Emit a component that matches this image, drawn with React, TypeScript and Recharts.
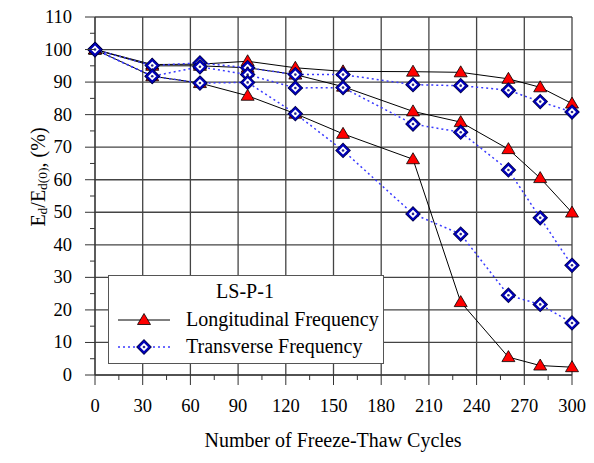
import { LineChart, Line, XAxis, YAxis, CartesianGrid } from "recharts";

// freeze-thaw cycles where readings were taken
const cycles = [0, 36, 66, 96, 126, 156, 200, 230, 260, 280, 300];

// longitudinal frequency, three specimens
const long1 = [100, 95.4, 95.5, 96.4, 94.4, 93.3, 93.2, 93, 91, 88.4, 83.4];
const long2 = [100, 95, 95, 94.4, 92.3, 88.6, 81, 77.7, 69.4, 60.5, 49.9];
const long3 = [100, 91.8, 89.7, 85.8, 80.3, 74.1, 66.3, 22.4, 5.5, 2.9, 2.4];

// transverse frequency, three specimens
const trans1 = [100, 95.1, 95.9, 94.4, 92.3, 92.3, 89.2, 88.9, 87.5, 84, 80.8];
const trans2 = [100, 91.8, 94.7, 92.3, 88.2, 88.3, 77.1, 74.6, 63, 48.3, 33.7];
const trans3 = [100, 91.8, 89.7, 89.9, 80.3, 69, 49.5, 43.3, 24.5, 21.7, 16];

const xTicks = Array.from({ length: 21 }, (_, i) => i * 15);
const xMajor = xTicks.filter((v) => v % 30 === 0);
const yTicks = Array.from({ length: 23 }, (_, i) => i * 5);
const yMajor = yTicks.filter((v) => v % 10 === 0);

const data = cycles.map((c, i) => ({
  cycles: c,
  l1: long1[i],
  l2: long2[i],
  l3: long3[i],
  t1: trans1[i],
  t2: trans2[i],
  t3: trans3[i],
}));

const FONT = '"Liberation Serif", "Times New Roman", serif';
const AXIS = "#333";
const BLUE_LINE = "#3a3aff";

function Triangle({ cx, cy }: { cx: number; cy: number }) {
  return (
    <polygon
      points={`${cx},${cy - 6.5} ${cx + 6.5},${cy + 4.5} ${cx - 6.5},${cy + 4.5}`}
      fill="#ff0000"
      stroke="#000"
      strokeWidth={0.8}
    />
  );
}

function Diamond({ cx, cy }: { cx: number; cy: number }) {
  const pts = `${cx},${cy - 5.5} ${cx + 5.5},${cy} ${cx},${cy + 5.5} ${cx - 5.5},${cy}`;
  return (
    <g>
      <polygon points={pts} fill="#fff" stroke="#000040" strokeWidth={3.4} />
      <polygon points={pts} fill="#fff" stroke="#0000b8" strokeWidth={2} />
      <circle cx={cx} cy={cy} r={1.3} fill="#2a2a90" />
    </g>
  );
}

const triDot = (p: any) =>
  p.cx == null ? <g key={p.key} /> : <g key={p.key}><Triangle cx={p.cx} cy={p.cy} /></g>;
const diaDot = (p: any) =>
  p.cx == null ? <g key={p.key} /> : <g key={p.key}><Diamond cx={p.cx} cy={p.cy} /></g>;

// tick position comes in as the axis line point since tickSize and tickMargin are 0
const xTick = (p: any) => {
  const { x, y, payload } = p;
  const major = payload.value % 30 === 0;
  return (
    <g>
      <line x1={x} x2={x} y1={y} y2={y + (major ? 10 : 5)} stroke={AXIS} />
      {major && (
        <text x={x} y={y + 37} textAnchor="middle" fontSize={18.5} fontFamily={FONT} fill="#000">
          {payload.value}
        </text>
      )}
    </g>
  );
};

const yTick = (p: any) => {
  const { x, y, payload } = p;
  const major = payload.value % 10 === 0;
  return (
    <g>
      <line x1={x} x2={x - (major ? 10 : 5)} y1={y} y2={y} stroke={AXIS} />
      {major && (
        <text x={x - 23} y={y + 6} textAnchor="end" fontSize={18.5} fontFamily={FONT} fill="#000">
          {payload.value}
        </text>
      )}
    </g>
  );
};

export default function App() {
  return (
    <div style={{ position: "absolute", left: 0, top: 0, width: 594, height: 463, background: "#fff" }}>
      <LineChart
        width={594}
        height={463}
        data={data}
        margin={{ top: 17, right: 22, bottom: 58, left: 65 }}
      >
        <CartesianGrid
          horizontalValues={yMajor}
          verticalValues={xMajor}
          stroke="#444"
          strokeWidth={1.3}
        />
        <XAxis
          type="number"
          dataKey="cycles"
          domain={[0, 300]}
          ticks={xTicks}
          interval={0}
          height={30}
          tickSize={0}
          tickMargin={0}
          tickLine={false}
          axisLine={{ stroke: AXIS }}
          tick={xTick}
        />
        <YAxis
          type="number"
          domain={[0, 110]}
          ticks={yTicks}
          interval={0}
          width={30}
          tickSize={0}
          tickMargin={0}
          tickLine={false}
          axisLine={{ stroke: AXIS }}
          tick={yTick}
        />
        <Line dataKey="l1" stroke="#000" strokeWidth={1} dot={triDot} isAnimationActive={false} />
        <Line dataKey="l2" stroke="#000" strokeWidth={1} dot={triDot} isAnimationActive={false} />
        <Line dataKey="l3" stroke="#000" strokeWidth={1} dot={triDot} isAnimationActive={false} />
        <Line dataKey="t1" stroke={BLUE_LINE} strokeWidth={1.5} strokeDasharray="2 3" dot={diaDot} isAnimationActive={false} />
        <Line dataKey="t2" stroke={BLUE_LINE} strokeWidth={1.5} strokeDasharray="2 3" dot={diaDot} isAnimationActive={false} />
        <Line dataKey="t3" stroke={BLUE_LINE} strokeWidth={1.5} strokeDasharray="2 3" dot={diaDot} isAnimationActive={false} />
      </LineChart>

      <svg
        width={594}
        height={463}
        style={{ position: "absolute", left: 0, top: 0, pointerEvents: "none" }}
        fontFamily={FONT}
      >
        {/* axis titles */}
        <text
          x={40}
          y={177}
          transform="rotate(-90 40 177)"
          textAnchor="middle"
          dominantBaseline="middle"
          fontSize={20}
          fill="#000"
        >
          E<tspan dy={4} fontSize={13.5}>d</tspan>
          <tspan dy={-4}>/E</tspan>
          <tspan dy={4} fontSize={13.5}>d(0)</tspan>
          <tspan dy={-4}>, (%)</tspan>
        </text>
        <text x={333} y={447} textAnchor="middle" fontSize={20} fill="#000">
          Number of Freeze-Thaw Cycles
        </text>

        {/* legend */}
        <rect x={108.5} y={275.5} width={275} height={88} fill="#fff" stroke="#555" strokeWidth={1} />
        <text x={245} y={298} textAnchor="middle" fontSize={20} fill="#000">
          LS-P-1
        </text>
        <line x1={118} x2={170} y1={320} y2={320} stroke="#000" />
        <Triangle cx={144} cy={320} />
        <text x={186} y={326} fontSize={20} fill="#000">
          Longitudinal Frequency
        </text>
        <line x1={118} x2={170} y1={347} y2={347} stroke={BLUE_LINE} strokeWidth={1.5} strokeDasharray="2 3" />
        <Diamond cx={144} cy={347} />
        <text x={186} y={353} fontSize={20} fill="#000">
          Transverse Frequency
        </text>
      </svg>
    </div>
  );
}
